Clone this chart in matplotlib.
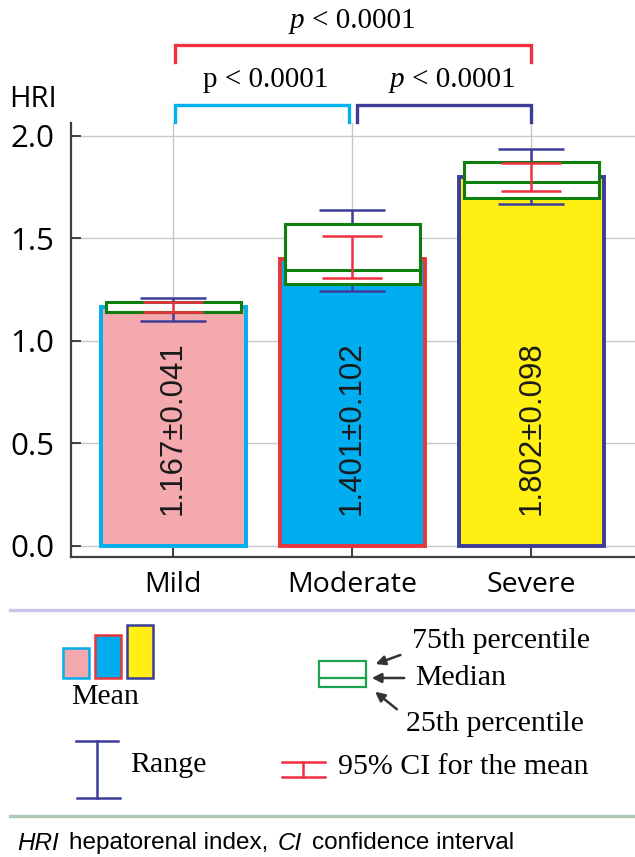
import matplotlib
matplotlib.use('Agg')
import matplotlib.pyplot as plt
from matplotlib.patches import Rectangle

# data
groups = ['Mild', 'Moderate', 'Severe']
means = [1.167, 1.401, 1.802]
sds = [0.041, 0.102, 0.098]
q1 = [1.139, 1.278, 1.698]
medians = [1.142, 1.346, 1.776]
q3 = [1.190, 1.571, 1.873]
ci_lo = [1.139, 1.307, 1.732]
ci_hi = [1.190, 1.512, 1.868]
range_lo = [1.098, 1.244, 1.668]
range_hi = [1.210, 1.639, 1.937]
yticks = [0.0, 0.5, 1.0, 1.5, 2.0]

fills = ['#F4A9AE', '#00AEEF', '#FFEF12']
edges = ['#00AEEF', '#E8353B', '#3D3D99']
BOX_GREEN = '#0E7F0E'
CI_RED = '#EE3040'
RANGE_BLUE = '#3D3D99'

SANS = 'Open Sans'
SERIF = 'Liberation Serif'

fig = plt.figure(figsize=(6.35, 8.57), dpi=100)
W, H = 635, 857

# main axes, placed to match the reference pixel layout
ax = fig.add_axes([71 / W, 1 - 557 / H, 1 - 71 / W, (557 - 123) / H])
x = list(range(len(groups)))

ax.bar(x, means, width=0.81, color=fills, edgecolor=edges, linewidth=2.8, zorder=2)

# range whiskers
for i in x:
    ax.errorbar(i, means[i], yerr=[[means[i] - range_lo[i]], [range_hi[i] - means[i]]],
                fmt='none', ecolor=RANGE_BLUE, elinewidth=1.8, capsize=24, capthick=1.8, zorder=3)

# interquartile boxes with median
bw = 0.754
for i in x:
    ax.add_patch(Rectangle((i - bw / 2, q1[i]), bw, q3[i] - q1[i], facecolor='white',
                           edgecolor=BOX_GREEN, linewidth=2.2, zorder=4))
    ax.plot([i - bw / 2, i + bw / 2], [medians[i], medians[i]], color=BOX_GREEN, lw=2.2, zorder=4)

# 95% CI for the mean
for i in x:
    ax.errorbar(i, means[i], yerr=[[means[i] - ci_lo[i]], [ci_hi[i] - means[i]]],
                fmt='none', ecolor=CI_RED, elinewidth=1.8, capsize=21.5, capthick=1.8, zorder=5)

# mean +/- sd text inside the bars
for i in x:
    ax.text(i, 0.575, f'{means[i]:.3f}\u00b1{sds[i]:.3f}', rotation=90, ha='center', va='center',
            fontsize=22.5, family='Liberation Sans', color='#1a1a1a', zorder=6)

ax.set_xlim(-0.57, 2.58)
ax.set_ylim(-0.054, 2.063)
ax.set_yticks(yticks)
ax.set_yticklabels([f'{t:.1f}' for t in yticks], family=SANS, fontsize=22.5)
ax.set_xticks(x)
ax.set_xticklabels(groups, family=SANS, fontsize=20.5)
ax.tick_params(direction='in', length=7, width=1.4, color='#404040')
ax.tick_params(axis='y', pad=12)
ax.tick_params(axis='x', pad=10)
ax.grid(True, color='#C8C8C8', lw=1.0, zorder=0)
ax.set_axisbelow(True)
for s in ['top', 'right']:
    ax.spines[s].set_visible(False)
for s in ['left', 'bottom']:
    ax.spines[s].set_color('#404040')
    ax.spines[s].set_linewidth(1.6)

# significance brackets
brackets = [(0.01, 0.98, 2.068, 2.151, '#00B0F0'),
            (1.03, 2.0, 2.068, 2.151, '#3D3D99'),
            (0.01, 2.0, 2.361, 2.444, '#EE3040')]
for a, b, y0, y1, c in brackets:
    ax.plot([a, a, b, b], [y0, y1, y1, y0], color=c, lw=2.4, clip_on=False,
            solid_joinstyle='miter', zorder=6)

# overlay axes in pixel units for labels and the key
ov = fig.add_axes([0, 0, 1, 1])
ov.set_xlim(0, W)
ov.set_ylim(H, 0)
ov.axis('off')
rend = fig.canvas.get_renderer()


def rich(px, py, pieces, size, family, ha='center', gap=7):
    objs = []
    widths = []
    for s, style in pieces:
        t = ov.text(0, py, s, fontsize=size, family=family, style=style, va='center', ha='left')
        widths.append(t.get_window_extent(rend).width)
        objs.append(t)
    total = sum(widths) + gap * (len(pieces) - 1)
    cur = px - total / 2 if ha == 'center' else px
    for t, w in zip(objs, widths):
        t.set_x(cur)
        cur += w + gap


rich(266, 80, [('p < 0.0001', 'normal')], 21, SERIF)
rich(453, 80, [('p', 'italic'), ('< 0.0001', 'normal')], 21, SERIF, gap=8)
rich(353, 21, [('p', 'italic'), ('< 0.0001', 'normal')], 21, SERIF, gap=8)

ov.text(9, 99, 'HRI', fontsize=21, family=SANS, va='center', ha='left')

# separators
ov.plot([10, 635], [610, 610], color='#C9C5E6', lw=2.4)
ov.plot([10, 635], [816, 816], color='#AFC7B5', lw=2.4)

# key: mean bars
key_bars = [(63, 648, 89), (95, 635, 121), (127, 625, 153)]
for (x0, y0, x1), f, e in zip(key_bars, fills, edges):
    ov.add_patch(Rectangle((x0, y0), x1 - x0, 678 - y0, facecolor=f, edgecolor=e, lw=1.8))
ov.text(105, 697, 'Mean', fontsize=21.5, family=SERIF, ha='center', va='center')

# key: range
ov.plot([97, 97], [741, 798], color=RANGE_BLUE, lw=1.8)
ov.plot([76, 118], [741, 741], color=RANGE_BLUE, lw=1.8)
ov.plot([77, 120], [798, 798], color=RANGE_BLUE, lw=1.8)
ov.text(130, 765, 'Range', fontsize=21.5, family=SERIF, ha='left', va='center')

# key: box
KEY_GREEN = '#1BA350'
ov.add_patch(Rectangle((319, 661), 47, 26, facecolor='white', edgecolor=KEY_GREEN, lw=1.6))
ov.plot([319, 366], [678, 678], color=KEY_GREEN, lw=1.6)
arrows = [((403, 654), (373, 665)), ((407, 678), (369, 678)), ((399, 711), (373, 690))]
for (tx, ty), (hx, hy) in arrows:
    ov.annotate('', xy=(hx, hy), xytext=(tx, ty),
                arrowprops=dict(arrowstyle='-|>', color='#333333', lw=1.8, mutation_scale=14))
ov.text(412, 641, '75th percentile', fontsize=21.5, family=SERIF, ha='left', va='center')
ov.text(415, 678, 'Median', fontsize=21.5, family=SERIF, ha='left', va='center')
ov.text(406, 724, '25th percentile', fontsize=21.5, family=SERIF, ha='left', va='center')

# key: CI
ov.plot([282, 325], [762, 762], color=CI_RED, lw=1.8)
ov.plot([282, 325], [777, 777], color=CI_RED, lw=1.8)
ov.plot([303, 303], [762, 777], color=CI_RED, lw=1.8)
ov.text(338, 767, '95% CI for the mean', fontsize=21.5, family=SERIF, ha='left', va='center')

# footer
rich(17, 843, [('HRI', 'italic'), ('hepatorenal index,', 'normal'), ('CI', 'italic'),
               ('confidence interval', 'normal')], 17.5, 'Liberation Sans', ha='left', gap=10)

fig.savefig('out.png', dpi=100)
